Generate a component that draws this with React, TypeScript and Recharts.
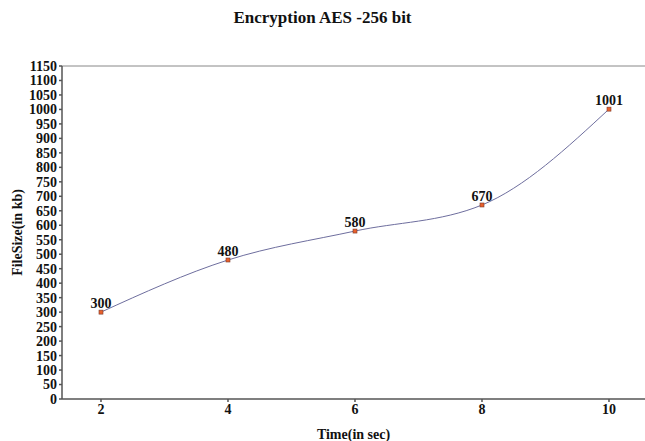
import React from "react";
import {
  ComposedChart,
  Line,
  XAxis,
  YAxis,
  ReferenceLine,
  LabelList,
} from "recharts";

const times = [2, 4, 6, 8, 10];
const fileSizes = [300, 480, 580, 670, 1001];
const xTicks = [2, 4, 6, 8, 10];
const yTicks = Array.from({ length: 24 }, (_, i) => i * 50);

const data = times.map((t, i) => ({ time: t, size: fileSizes[i] }));

const FONT = '"Liberation Serif", "Times New Roman", serif';

const SquareDot = (props: any) => {
  const { cx, cy } = props;
  if (cx == null || cy == null) return null;
  return (
    <rect
      x={cx - 2}
      y={cy - 2}
      width={4}
      height={4}
      fill="#e8602c"
      stroke="#7a3a2a"
      strokeWidth={0.6}
    />
  );
};

export default function App() {
  return (
    <div style={{ position: "absolute", left: 0, top: 0, width: 645, height: 441, background: "#fff", fontFamily: FONT }}>
      <div
        style={{
          position: "absolute",
          top: 8,
          left: 0,
          width: 645,
          textAlign: "center",
          fontSize: 17,
          fontWeight: "bold",
          color: "#111",
        }}
      >
        Encryption AES -256 bit
      </div>
      <ComposedChart
        width={645}
        height={441}
        data={data}
        margin={{ top: 66, right: 0, bottom: 0, left: 0 }}
        style={{ fontFamily: FONT }}
      >
        <XAxis
          dataKey="time"
          type="number"
          domain={[1.386, 10.567]}
          ticks={xTicks}
          allowDataOverflow
          height={42}
          tickSize={3}
          stroke="#555"
          strokeWidth={1.5}
          tick={{ fontSize: 14, fontWeight: "bold", fill: "#111" }}
          label={{ value: "Time(in sec)", position: "insideBottom", offset: 2, fontSize: 14, fontWeight: "bold", fill: "#111" }}
        />
        <YAxis
          type="number"
          domain={[0, 1150]}
          ticks={yTicks}
          interval={0}
          width={62}
          tickSize={3}
          stroke="#555"
          strokeWidth={1.5}
          tick={{ fontSize: 14, fontWeight: "bold", fill: "#111" }}
          label={(p: any) => {
            const vb = p.viewBox || {};
            const cy = (vb.y ?? 66) + (vb.height ?? 333) / 2;
            return (
              <text
                x={22}
                y={cy}
                transform={`rotate(-90, 22, ${cy})`}
                textAnchor="middle"
                fontSize={14}
                fontWeight="bold"
                fill="#111"
              >
                FileSize(in kb)
              </text>
            );
          }}
        />
        <ReferenceLine y={1150} stroke="#888" strokeWidth={1} />
        <Line
          type="monotone"
          dataKey="size"
          stroke="#6e6e9e"
          strokeWidth={1}
          dot={<SquareDot />}
          activeDot={false}
          isAnimationActive={false}
        >
          <LabelList dataKey="size" position="top" offset={4} fontSize={14} fontWeight="bold" fill="#111" />
        </Line>
      </ComposedChart>
    </div>
  );
}
